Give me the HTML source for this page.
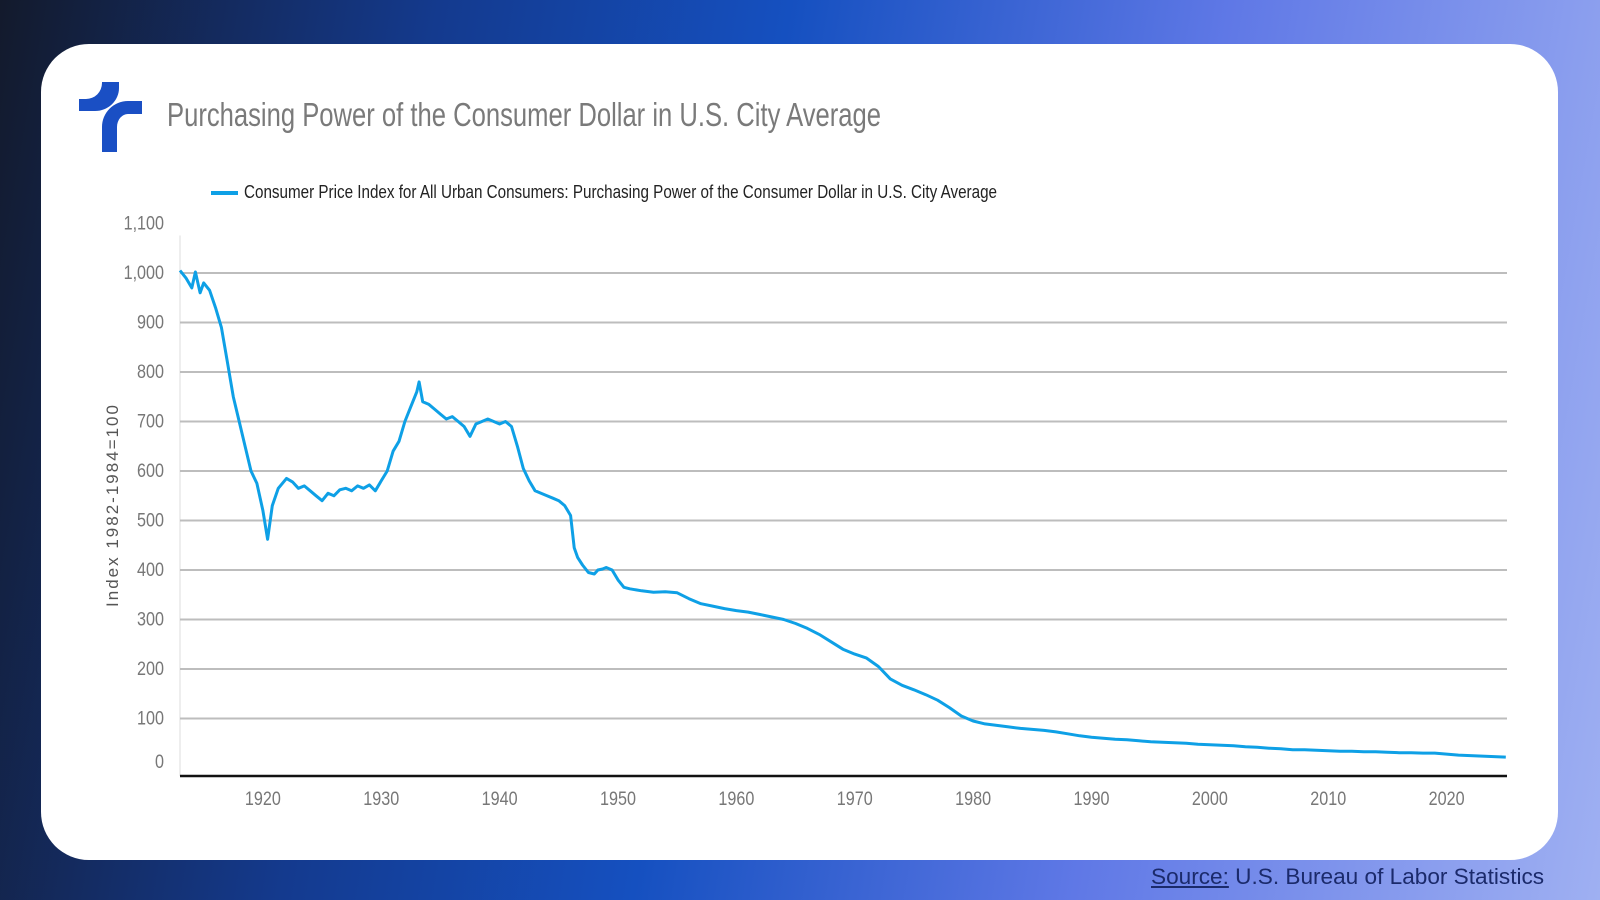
<!DOCTYPE html>
<html><head><meta charset="utf-8">
<style>
html,body{margin:0;padding:0;width:1600px;height:900px;overflow:hidden;}
body{background:linear-gradient(100deg,#131a2c 0%,#143a8e 25%,#1550c0 45%,#5f78e6 70%,#9fb0f2 100%);position:relative;font-family:"Liberation Sans",sans-serif;}
.card{position:absolute;left:41px;top:44px;width:1517px;height:816px;background:#fff;border-radius:48px;}
.src{position:absolute;left:1151px;top:864px;font-size:22.6px;color:#1b2a6b;white-space:nowrap;}
.src u{text-decoration:underline;}
</style></head><body>
<div class="card"></div>
<svg width="1600" height="900" style="position:absolute;left:0;top:0">
  <g fill="#1a4fc4">
    <path d="M102 82 L119 82 L119 88 A24 23 0 0 1 95 111 L79 111 L79 99 L86 99 A16 16 0 0 0 102 83 Z"/>
    <path d="M142 101 L128 101 A26 26 0 0 0 102 127 L102 152 L117 152 L117 127 A11 13 0 0 1 128 114 L142 114 Z"/>
  </g>
  <text x="167" y="126" font-size="33" fill="#7a7a7a" textLength="714" lengthAdjust="spacingAndGlyphs">Purchasing Power of the Consumer Dollar in U.S. City Average</text>
  <g>
    <line x1="211" y1="193" x2="238" y2="193" stroke="#0ea0e6" stroke-width="4"/>
    <text x="244" y="198" font-size="18" fill="#222" textLength="753" lengthAdjust="spacingAndGlyphs">Consumer Price Index for All Urban Consumers: Purchasing Power of the Consumer Dollar in U.S. City Average</text>
  </g>
  <text transform="translate(118,505) rotate(-90)" text-anchor="middle" font-size="17" letter-spacing="2" fill="#555">Index 1982-1984=100</text>
  <g id="grid"></g><g id="yt"></g><g id="xt"></g><g id="ln"></g>
</svg>
<div class="src"><u>Source:</u> U.S. Bureau of Labor Statistics</div>
<script>
const yTicks=[0,100,200,300,400,500,600,700,800,900,1000,1100];
const yTickLabels=["0","100","200","300","400","500","600","700","800","900","1,000","1,100"];
const xTicks=[1920,1930,1940,1950,1960,1970,1980,1990,2000,2010,2020];
const years=[1913,1913.5,1914,1914.3,1914.7,1915,1915.5,1916,1916.5,1917,1917.5,1918,1918.5,1919,1919.5,1920,1920.4,1920.8,1921.3,1922,1922.5,1923,1923.5,1924,1924.5,1925,1925.5,1926,1926.5,1927,1927.5,1928,1928.5,1929,1929.5,1930,1930.5,1931,1931.5,1932,1932.5,1933,1933.2,1933.5,1934,1934.5,1935,1935.5,1936,1936.5,1937,1937.5,1938,1938.5,1939,1939.5,1940,1940.5,1941,1941.5,1942,1942.5,1943,1943.5,1944,1944.5,1945,1945.5,1946,1946.3,1946.6,1947,1947.5,1948,1948.3,1948.7,1949,1949.5,1950,1950.5,1951,1952,1953,1954,1955,1956,1957,1958,1959,1960,1961,1962,1963,1964,1965,1966,1967,1968,1969,1970,1971,1972,1973,1974,1975,1976,1977,1978,1979,1980,1981,1982,1983,1984,1985,1986,1987,1988,1989,1990,1991,1992,1993,1994,1995,1996,1997,1998,1999,2000,2001,2002,2003,2004,2005,2006,2007,2008,2009,2010,2011,2012,2013,2014,2015,2016,2017,2018,2019,2020,2021,2022,2023,2024,2025];
const values=[1005,990,970,1002,960,980,965,930,890,820,750,700,650,600,575,520,462,530,565,585,578,565,570,560,550,540,555,550,562,565,560,570,565,572,560,580,600,640,660,700,730,760,780,740,735,725,715,705,710,700,690,670,695,700,705,700,695,700,690,650,605,580,560,555,550,545,540,530,510,445,425,410,395,392,400,402,405,400,380,365,362,358,355,356,354,342,332,327,322,318,315,310,305,300,292,282,270,255,240,230,222,205,180,167,158,148,137,122,105,95,89,86,83,80,78,76,73,69,65,62,60,58,57,55,53,52,51,50,48,47,46,45,43,42,40,39,37,37,36,35,34,34,33,33,32,31,31,30,30,28,26,25,24,23,22];
const X0=1913,X1=2025.1,PX0=180,PX1=1507;
const yMin=0,yMax=1000,PY0=768,PY1=273;
function xs(v){return PX0+(v-X0)/(X1-X0)*(PX1-PX0);}
function ys(v){return PY0+(v-yMin)/(yMax-yMin)*(PY1-PY0);}
const NS="http://www.w3.org/2000/svg";
const grid=document.getElementById('grid'),yt=document.getElementById('yt'),xt=document.getElementById('xt'),ln=document.getElementById('ln');
const vax=document.createElementNS(NS,'line');
vax.setAttribute('x1',PX0);vax.setAttribute('x2',PX0);vax.setAttribute('y1',ys(1100)+12);vax.setAttribute('y2',776);
vax.setAttribute('stroke','#ddd');vax.setAttribute('stroke-width','1');


grid.appendChild(vax);
yTicks.forEach((t,i)=>{
  const y=ys(t);
  if(t>0&&t<1100){
    const g=document.createElementNS(NS,'line');
    g.setAttribute('x1',PX0);g.setAttribute('x2',PX1);g.setAttribute('y1',y);g.setAttribute('y2',y);
    g.setAttribute('stroke','#bdbdbd');g.setAttribute('stroke-width','2');
    
    
    grid.appendChild(g);
  }
  const tx=document.createElementNS(NS,'text');
  tx.setAttribute('x',164);tx.setAttribute('y',y+(t===0?0:6));tx.setAttribute('text-anchor','end');
  tx.setAttribute('font-size','19');tx.setAttribute('fill','#777');
  tx.setAttribute('transform','translate(164,0) scale(0.85,1) translate(-164,0)');
  tx.textContent=yTickLabels[i];
  
  
  yt.appendChild(tx);
});
const ax=document.createElementNS(NS,'line');
ax.setAttribute('x1',PX0);ax.setAttribute('x2',PX1);ax.setAttribute('y1',776);ax.setAttribute('y2',776);
ax.setAttribute('stroke','#111');ax.setAttribute('stroke-width','2.5');


xt.appendChild(ax);
xTicks.forEach(t=>{
  const x=xs(t);
  const tx=document.createElementNS(NS,'text');
  tx.setAttribute('x',x);tx.setAttribute('y',805);tx.setAttribute('text-anchor','middle');
  tx.setAttribute('font-size','19');tx.setAttribute('fill','#777');
  tx.setAttribute('transform','translate('+x+',0) scale(0.85,1) translate('+(-x)+',0)');
  tx.textContent=t;
  
  
  xt.appendChild(tx);
});
let d='';
const n=Math.min(years.length,values.length);
for(let i=0;i<n;i++){d+=(i?'L':'M')+xs(years[i]).toFixed(1)+' '+ys(values[i]).toFixed(1)+' ';}
const p=document.createElementNS(NS,'path');
p.setAttribute('d',d);p.setAttribute('fill','none');p.setAttribute('stroke','#0ea0e6');
p.setAttribute('stroke-width','3');p.setAttribute('stroke-linejoin','round');


ln.appendChild(p);
</script>
</body></html>
